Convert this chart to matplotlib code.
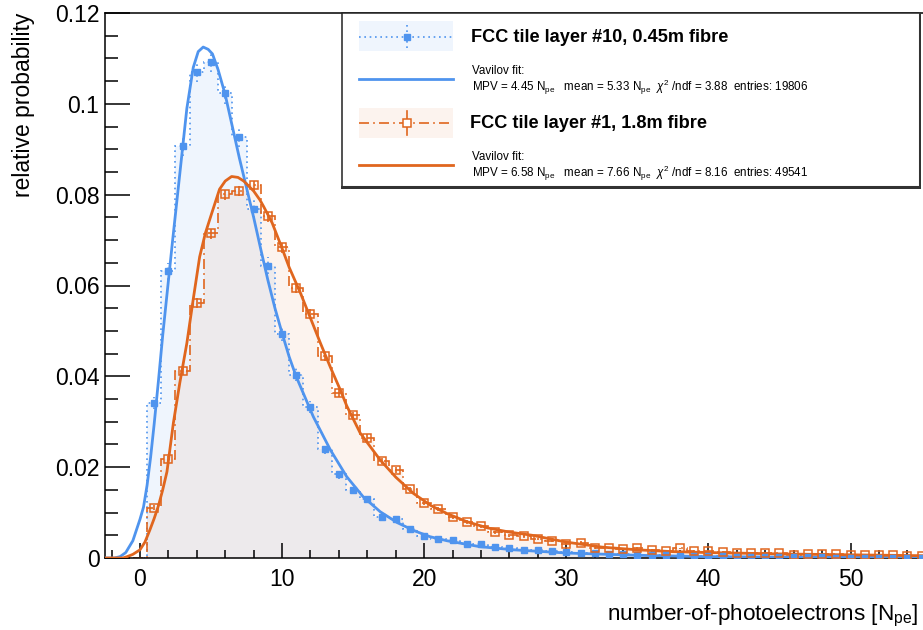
import numpy as np
import matplotlib
matplotlib.use('Agg')
import matplotlib.pyplot as plt
from matplotlib.ticker import MultipleLocator, FuncFormatter
from matplotlib.patches import Rectangle

plt.rcParams['font.family'] = 'Liberation Sans'
plt.rcParams['mathtext.fontset'] = 'custom'
plt.rcParams['mathtext.rm'] = 'Liberation Sans'
plt.rcParams['mathtext.it'] = 'Liberation Sans:italic'

# one bin per photoelectron count
n_pe = list(range(56))

# FCC tile layer #10, 0.45m fibre
layer10 = [0.0, 0.0342, 0.0631, 0.0907, 0.1071, 0.1093, 0.1023, 0.0926, 0.0769, 0.0644,
           0.0494, 0.0404, 0.0332, 0.0240, 0.0184, 0.0150, 0.0130, 0.0091, 0.0085, 0.0063,
           0.0049, 0.0042, 0.0039, 0.0031, 0.0030, 0.0025, 0.0021, 0.0018, 0.0017, 0.0015,
           0.0014, 0.0012, 0.0010, 0.0009, 0.0008, 0.0007, 0.0006, 0.0006, 0.0005, 0.0005,
           0.0004, 0.0004, 0.0003, 0.0003, 0.0003, 0.0002, 0.0002, 0.0002, 0.0002, 0.0001,
           0.0001, 0.0001, 0.0001, 0.0001, 0.0001, 0.0001]
entries10 = 19806

# FCC tile layer #1, 1.8m fibre
layer1 = [0.0, 0.0111, 0.0217, 0.0412, 0.0561, 0.0715, 0.0802, 0.0809, 0.0821, 0.0752,
          0.0684, 0.0595, 0.0537, 0.0444, 0.0363, 0.0314, 0.0265, 0.0214, 0.0194, 0.0151,
          0.0122, 0.0108, 0.0090, 0.0079, 0.0070, 0.0057, 0.0050, 0.0048, 0.0042, 0.0037,
          0.0031, 0.0034, 0.0023, 0.0022, 0.0020, 0.0022, 0.0018, 0.0016, 0.0021, 0.0015,
          0.0015, 0.0014, 0.0012, 0.0012, 0.0010, 0.0010, 0.0006, 0.0008, 0.0008, 0.0008,
          0.0007, 0.0006, 0.0006, 0.0006, 0.0005, 0.0005]
entries1 = 49541

# Vavilov fit curves
fit10_x = [-2.5, -1.8, -1.4, -1.0, -0.5, 0.0, 0.25, 0.5, 0.75, 1.0, 1.3, 1.6, 1.9, 2.3,
           2.8, 3.3, 3.75, 4.1, 4.45, 4.8, 5.1, 5.5, 6.0, 6.5, 7.0, 7.5, 8.0, 8.5, 9.0,
           9.5, 10.0, 10.5, 11.0, 12.2, 13.4, 14.55, 15.7, 16.9, 18.1, 19.3, 20.4, 21.6,
           23.9, 26.3, 30.0, 35.0, 40.0, 45.0, 55.2]
fit10_y = [0.0, 0.0, 0.0003, 0.0012, 0.0038, 0.0085, 0.0112, 0.0160, 0.0222, 0.0295,
           0.0390, 0.0490, 0.0580, 0.0700, 0.0845, 0.0990, 0.1080, 0.1115, 0.1125, 0.1120,
           0.1110, 0.1075, 0.1020, 0.0950, 0.0880, 0.0815, 0.0750, 0.0680, 0.0612, 0.0550,
           0.0495, 0.0443, 0.0399, 0.0311, 0.0238, 0.0179, 0.0135, 0.0102, 0.0078, 0.0060,
           0.0047, 0.0038, 0.0025, 0.0018, 0.0011, 0.0006, 0.0003, 0.0002, 0.0001]

fit1_x = [-2.5, -1.2, -0.9, -0.5, 0.0, 0.35, 0.7, 1.0, 1.3, 1.6, 1.9, 2.35, 2.8, 3.3,
          3.75, 4.2, 4.6, 5.05, 5.6, 6.0, 6.45, 6.9, 7.3, 8.0, 8.45, 8.7, 9.3, 9.9, 10.5,
          11.3, 12.0, 12.7, 13.4, 14.1, 14.55, 15.5, 16.9, 18.0, 19.25, 20.5, 21.6, 23.0,
          24.5, 26.0, 27.6, 30.0, 32.5, 35.0, 37.5, 40.0, 45.0, 50.0, 55.2]
fit1_y = [0.0, 0.0, 0.0003, 0.0008, 0.0018, 0.0035, 0.0062, 0.0087, 0.0115, 0.0150,
          0.0190, 0.0297, 0.0385, 0.0473, 0.0570, 0.0663, 0.0715, 0.0759, 0.0812, 0.0830,
          0.0840, 0.0838, 0.0830, 0.0808, 0.0788, 0.0774, 0.0738, 0.0690, 0.0640, 0.0583,
          0.0528, 0.0473, 0.0420, 0.0370, 0.0335, 0.0275, 0.0216, 0.0178, 0.0142, 0.0115,
          0.0098, 0.0080, 0.0066, 0.0057, 0.0050, 0.0035, 0.0024, 0.0018, 0.0014, 0.0012,
          0.0009, 0.0007, 0.0005]

blue = '#4f94ee'
orange = '#e0661e'
dotted = (0, (1, 2.2))
dashdot = (0, (6, 2.5, 1, 2.5))

x = np.array(n_pe, dtype=float)
edges = np.append(x - 0.5, x[-1] + 0.5)
h10 = np.array(layer10)
h1 = np.array(layer1)
err10 = np.sqrt(h10 / entries10)
err1 = np.sqrt(h1 / entries1)

fig = plt.figure(figsize=(9.23, 6.3), dpi=100)
ax = fig.add_axes([105 / 923, 72 / 630, 818 / 923, 545 / 630])

# filled histograms
ax.stairs(h10, edges, fill=True, color=blue, alpha=0.09, lw=0, zorder=1)
ax.stairs(h1, edges, fill=True, color=orange, alpha=0.075, lw=0, zorder=1.1)

# histogram outlines
ax.stairs(h10, edges, color=blue, lw=1.2, linestyle=dotted, zorder=2)
ax.stairs(h1, edges, color=orange, lw=1.2, linestyle=dashdot, zorder=2)

# data points
eb = ax.errorbar(x[1:], h10[1:], yerr=err10[1:], fmt='s', ms=4, color=blue, mec=blue,
                 elinewidth=1.2, capsize=0, zorder=4)
eb[2][0].set_linestyle(dotted)
eb = ax.errorbar(x[1:], h1[1:], yerr=err1[1:], fmt='s', ms=5.5, mfc='none', mec=orange,
                 mew=1.1, color=orange, elinewidth=1.2, capsize=0, zorder=4)
eb[2][0].set_linestyle(dashdot)

# fits
ax.plot(fit10_x, fit10_y, color=blue, lw=2.0, zorder=3)
ax.plot(fit1_x, fit1_y, color=orange, lw=2.0, zorder=3)

ax.set_xlim(-2.46, 55.1)
ax.set_ylim(0, 0.12)
ax.xaxis.set_major_locator(MultipleLocator(10))
ax.xaxis.set_minor_locator(MultipleLocator(2))
ax.yaxis.set_major_locator(MultipleLocator(0.02))
ax.yaxis.set_minor_locator(MultipleLocator(0.005))
ax.yaxis.set_major_formatter(FuncFormatter(lambda v, p: '%g' % round(v, 3)))
ax.tick_params(direction='in', which='both', top=False, right=False, labelsize=16.5,
               width=1.1, color='black')
ax.tick_params(axis='y', which='major', length=18, pad=4)
ax.tick_params(axis='y', which='minor', length=9)
ax.tick_params(axis='x', which='major', length=11, pad=7)
ax.tick_params(axis='x', which='minor', length=5.5)
ax.spines['right'].set_visible(False)
for s in ['left', 'bottom', 'top']:
    ax.spines[s].set_linewidth(1.1)

ax.set_xlabel(r'number-of-photoelectrons [N$_{\rm pe}$]', fontsize=16.2, loc='right',
              labelpad=9)
ax.xaxis.label.set_x(0.994)
ax.set_ylabel('relative probability', fontsize=16.5, loc='top', labelpad=14)

# legend box drawn by hand, in pixel units of the box
lax = fig.add_axes([341 / 923, (630 - 189) / 630, 580 / 923, 177 / 630])
lax.set_xlim(0, 580)
lax.set_ylim(177, 0)
lax.axis('off')
lax.add_patch(Rectangle((0.5, 0.5), 579, 174, facecolor='white', edgecolor='#222222', lw=1.1))
lax.plot([1, 580], [175, 175], color='#333333', lw=2.2)
lax.plot([579, 579], [1, 175], color='#333333', lw=2.2)

lax.add_patch(Rectangle((18, 9), 94, 30, facecolor=blue, alpha=0.09, lw=0))
lax.plot([18, 112], [25, 25], color=blue, lw=1.2, linestyle=dotted)
lax.plot([66, 66], [13, 37], color=blue, lw=1.2, linestyle=dotted)
lax.plot([66], [25], 's', ms=4, color=blue)
lax.text(130, 26, 'FCC tile layer #10, 0.45m fibre', fontsize=13.1, fontweight='bold',
         va='center')
lax.plot([18, 112], [67, 67], color=blue, lw=2.0)
lax.text(131, 59, 'Vavilov fit:', fontsize=8.4, va='center')
lax.text(131, 75, r'MPV = 4.45 N$_{\rm pe}$   mean = 5.33 N$_{\rm pe}$  $\chi^{2}$ /ndf = 3.88  entries: 19806',
         fontsize=8.4, va='center')

lax.add_patch(Rectangle((18, 96), 94, 30, facecolor=orange, alpha=0.075, lw=0))
lax.plot([18, 112], [111, 111], color=orange, lw=1.2, linestyle=dashdot)
lax.plot([66, 66], [99, 123], color=orange, lw=1.2)
lax.plot([66], [111], 's', ms=5.5, mfc='white', mec=orange, mew=1.1)
lax.text(129, 112, 'FCC tile layer #1, 1.8m fibre', fontsize=13.1, fontweight='bold',
         va='center')
lax.plot([18, 112], [153, 153], color=orange, lw=2.0)
lax.text(131, 145, 'Vavilov fit:', fontsize=8.4, va='center')
lax.text(131, 161, r'MPV = 6.58 N$_{\rm pe}$   mean = 7.66 N$_{\rm pe}$  $\chi^{2}$ /ndf = 8.16  entries: 49541',
         fontsize=8.4, va='center')

fig.savefig('out.png', dpi=100)
